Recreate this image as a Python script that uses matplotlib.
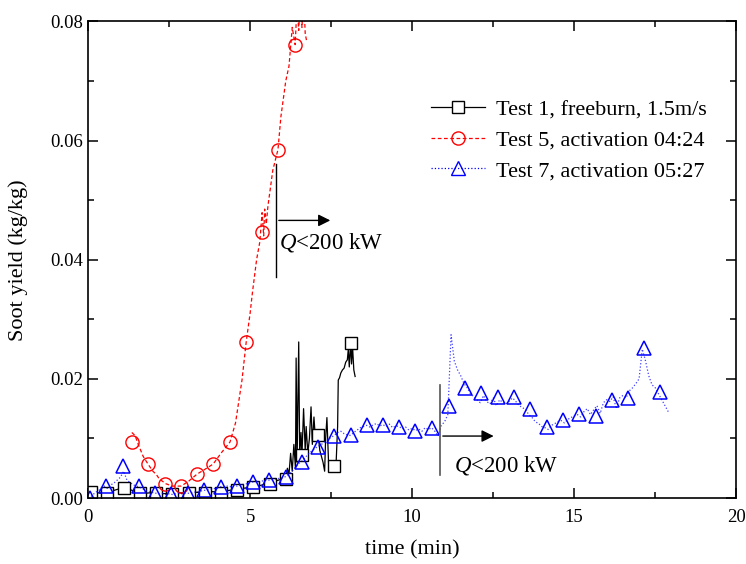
import matplotlib
matplotlib.use("Agg")
import matplotlib.pyplot as plt
from matplotlib.lines import Line2D
from matplotlib.ticker import MultipleLocator, FormatStrFormatter

plt.rcParams['font.family'] = ['Liberation Serif', 'DejaVu Serif']
plt.rcParams['mathtext.fontset'] = 'custom'
plt.rcParams['mathtext.it'] = 'Liberation Serif:italic'
plt.rcParams['mathtext.rm'] = 'Liberation Serif'

# ---- Test 1, freeburn (black solid) ----
t1_time = [0, 0.25, 0.5, 0.75, 1.0, 1.25, 1.5, 1.75, 2.0, 2.25, 2.5, 2.75, 3.0, 3.25,
           3.5, 3.75, 4.0, 4.25, 4.5, 4.75, 5.0, 5.25, 5.5, 5.75, 6.0,
           6.05, 6.1, 6.15, 6.2, 6.25, 6.3, 6.35, 6.4, 6.42, 6.45, 6.5, 6.53, 6.57, 6.6,
           6.65, 6.7, 6.73, 6.78, 6.83, 6.88, 6.92, 6.97, 7.02, 7.07, 7.1, 7.15, 7.2,
           7.25, 7.3, 7.33, 7.37, 7.42, 7.47, 7.55, 7.65, 7.7, 7.72, 7.76, 7.8, 7.85,
           7.9, 7.95, 8.0, 8.03, 8.06, 8.1, 8.13, 8.16, 8.2, 8.24]
t1_soot = [0.0010, 0.0009, 0.0008, 0.0012, 0.0016, 0.0015, 0.0010, 0.0008, 0.0009, 0.0007,
           0.0008, 0.0009, 0.0008, 0.0010, 0.0009, 0.0011, 0.0010, 0.0012, 0.0014, 0.0016,
           0.0018, 0.0020, 0.0024, 0.0028, 0.0032,
           0.0038, 0.0030, 0.0050, 0.0040, 0.0075, 0.0045, 0.0090, 0.0050, 0.0235, 0.0060,
           0.0262, 0.0070, 0.0110, 0.0072, 0.0150, 0.0080, 0.0120, 0.0075, 0.0100, 0.0153,
           0.0090, 0.0136, 0.0095, 0.0110, 0.0106, 0.0080, 0.0070, 0.0060, 0.0045, 0.0100,
           0.0135, 0.0060, 0.0050, 0.0054, 0.0054, 0.0120, 0.0198, 0.0202, 0.0210, 0.0215,
           0.0218, 0.0228, 0.0232, 0.0250, 0.0220, 0.0260, 0.0225, 0.0255, 0.0215, 0.0204]
t1_mk_time = [0.1, 0.6, 1.1, 1.6, 2.1, 2.6, 3.1, 3.6, 4.1, 4.6, 5.1, 5.6, 6.1, 6.6, 7.1, 7.6, 8.1]
t1_mk_soot = [0.0010, 0.0008, 0.0017, 0.0008, 0.0008, 0.0007, 0.0008, 0.0009, 0.0009,
              0.0014, 0.0018, 0.0024, 0.0032, 0.0072, 0.0106, 0.0054, 0.0260]

# ---- Test 5, activation 04:24 (red dashed) ----
t5_time = [1.35, 1.45, 1.55, 1.7, 1.85, 2.0, 2.1, 2.2, 2.4, 2.6, 2.87, 3.1, 3.36, 3.6,
           3.86, 4.1, 4.38, 4.55, 4.75, 4.88, 5.0, 5.07, 5.2, 5.3, 5.37, 5.42, 5.45,
           5.5, 5.55, 5.7, 5.86, 5.95, 6.1, 6.2, 6.3, 6.39, 6.45, 6.5, 6.55, 6.6,
           6.65, 6.7, 6.75]
t5_soot = [0.0110, 0.0105, 0.0090, 0.0070, 0.0057, 0.0045, 0.0040, 0.0032, 0.0024, 0.0020,
           0.0020, 0.0028, 0.0040, 0.0048, 0.0057, 0.0075, 0.0094, 0.0126, 0.0198, 0.0262,
           0.0310, 0.0344, 0.0400, 0.0430, 0.0479, 0.0440, 0.0485, 0.0460, 0.0490, 0.0550,
           0.0585, 0.0640, 0.0700, 0.0725, 0.0790, 0.0761, 0.0830, 0.0785, 0.0840, 0.0790,
           0.0850, 0.0780, 0.0765]
t5_mk_time = [1.36, 1.85, 2.38, 2.87, 3.36, 3.86, 4.38, 4.88, 5.37, 5.86, 6.39]
t5_mk_soot = [0.0094, 0.0057, 0.0024, 0.0020, 0.0040, 0.0057, 0.0094, 0.0262, 0.0447,
              0.0585, 0.0761]

# ---- Test 7, activation 05:27 (blue dotted) ----
t7_time = [round(0.1 * i, 1) for i in range(180)]
t7_soot = [0.0000, 0.0003, 0.0008, 0.0012, 0.0015, 0.0020, 0.0016, 0.0022, 0.0025, 0.0030,
           0.0035, 0.0045, 0.0030, 0.0026, 0.0022, 0.0020, 0.0018, 0.0015, 0.0012, 0.0010,
           0.0009, 0.0008, 0.0007, 0.0008, 0.0006, 0.0007, 0.0006, 0.0007, 0.0008, 0.0007,
           0.0008, 0.0008, 0.0009, 0.0010, 0.0011, 0.0012, 0.0013, 0.0014, 0.0015, 0.0016,
           0.0017, 0.0019, 0.0018, 0.0020, 0.0019, 0.0021, 0.0020, 0.0022, 0.0023, 0.0024,
           0.0026, 0.0027, 0.0028, 0.0027, 0.0029, 0.0030, 0.0030, 0.0031, 0.0032, 0.0033,
           0.0034, 0.0036, 0.0040, 0.0045, 0.0052, 0.0058, 0.0062, 0.0068, 0.0074, 0.0079,
           0.0083, 0.0087, 0.0090, 0.0094, 0.0098, 0.0102, 0.0105, 0.0110, 0.0112, 0.0108,
           0.0106, 0.0105, 0.0110, 0.0114, 0.0118, 0.0120, 0.0122, 0.0119, 0.0123, 0.0125,
           0.0121, 0.0123, 0.0120, 0.0124, 0.0118, 0.0121, 0.0120, 0.0116, 0.0119, 0.0114,
           0.0117, 0.0113, 0.0116, 0.0112, 0.0118, 0.0115, 0.0118, 0.0112, 0.0104, 0.0122,
           0.0128, 0.0140, 0.0274, 0.0230, 0.0215, 0.0205, 0.0192, 0.0185, 0.0175, 0.0170,
           0.0165, 0.0160, 0.0172, 0.0162, 0.0158, 0.0168, 0.0155, 0.0165, 0.0160, 0.0158,
           0.0163, 0.0168, 0.0162, 0.0155, 0.0152, 0.0148, 0.0140, 0.0135, 0.0128, 0.0125,
           0.0120, 0.0118, 0.0115, 0.0122, 0.0125, 0.0128, 0.0130, 0.0126, 0.0132, 0.0135,
           0.0138, 0.0140, 0.0136, 0.0145, 0.0150, 0.0140, 0.0148, 0.0155, 0.0142, 0.0160,
           0.0165, 0.0162, 0.0170, 0.0150, 0.0168, 0.0172, 0.0168, 0.0180, 0.0185, 0.0192,
           0.0200, 0.0250, 0.0230, 0.0205, 0.0190, 0.0185, 0.0175, 0.0165, 0.0155, 0.0145]
t7_mk_time = [0.06, 0.56, 1.08, 1.57, 2.07, 2.56, 3.09, 3.58, 4.1, 4.6, 5.09, 5.59, 6.1,
              6.6, 7.1, 7.6, 8.1, 8.6, 9.1, 9.6, 10.1, 10.6, 11.14, 11.64, 12.13, 12.65,
              13.15, 13.64, 14.17, 14.66, 15.15, 15.68, 16.17, 16.67, 17.16, 17.65]
t7_mk_soot = [0.0000, 0.0020, 0.0054, 0.0020, 0.0008, 0.0007, 0.0008, 0.0013, 0.0019,
              0.0020, 0.0027, 0.0030, 0.0035, 0.0060, 0.0086, 0.0104, 0.0105, 0.0122,
              0.0123, 0.0120, 0.0113, 0.0118, 0.0155, 0.0185, 0.0177, 0.0170, 0.0170,
              0.0150, 0.0120, 0.0131, 0.0141, 0.0138, 0.0164, 0.0168, 0.0252, 0.0178]

labels = ['Test 1, freeburn, 1.5m/s', 'Test 5, activation 04:24', 'Test 7, activation 05:27']

fig = plt.figure(figsize=(7.46, 5.64), dpi=100)
ax = fig.add_axes([0.118, 0.117, 0.869, 0.845])

ax.plot(t1_time, t1_soot, color='black', lw=0.9)
ax.plot(t1_mk_time, t1_mk_soot, ls='none', marker='s', ms=8, mfc='white', mec='black', mew=1)

ax.plot(t5_time, t5_soot, color='red', ls='--', lw=0.9, dashes=(3, 2))
ax.plot(t5_mk_time, t5_mk_soot, ls='none', marker='o', ms=9.5, mfc='none', mec='red', mew=1)

ax.plot(t7_time, t7_soot, color='blue', ls=':', lw=0.9, alpha=0.75)
ax.plot(t7_mk_time, t7_mk_soot, ls='none', marker='^', ms=10, mfc='none', mec='blue', mew=1.1)

# Q<200 kW markers
ax.plot([5.8, 5.8], [0.0371, 0.056], color='black', lw=1)
ax.annotate('', xy=(7.56, 0.0466), xytext=(5.8, 0.0466),
            arrowprops=dict(arrowstyle='-|>', color='black', lw=1, mutation_scale=18))
ax.text(5.9, 0.0429, r'$Q$<200 kW', fontsize=16.5, va='center', ha='left')

ax.plot([10.86, 10.86], [0.0039, 0.019], color='#555555', lw=1.2)
ax.annotate('', xy=(12.6, 0.0104), xytext=(10.86, 0.0104),
            arrowprops=dict(arrowstyle='-|>', color='black', lw=1, mutation_scale=18))
ax.text(11.3, 0.0055, r'$Q$<200 kW', fontsize=16.5, va='center', ha='left')

ax.set_xlim(0, 20)
ax.set_ylim(0, 0.08)
ax.xaxis.set_major_locator(MultipleLocator(5))
ax.xaxis.set_minor_locator(MultipleLocator(2.5))
ax.yaxis.set_major_locator(MultipleLocator(0.02))
ax.yaxis.set_minor_locator(MultipleLocator(0.01))
ax.yaxis.set_major_formatter(FormatStrFormatter('%.2f'))
ax.tick_params(which='both', direction='in', top=True, right=True, labelsize=13.5, width=1.1)
ax.tick_params(which='major', length=7)
ax.tick_params(which='minor', length=4)
ax.tick_params(axis='x', pad=8)
for s in ax.spines.values():
    s.set_linewidth(1.2)

ax.set_xlabel('time (min)', fontsize=16, labelpad=10)
ax.set_ylabel('Soot yield (kg/kg)', fontsize=16, labelpad=16)

handles = [
    Line2D([], [], color='black', lw=0.9, marker='s', ms=8, mfc='white', mec='black'),
    Line2D([], [], color='red', ls='--', lw=0.9, dashes=(3, 2), marker='o', ms=9.5, mfc='none', mec='red'),
    Line2D([], [], color='blue', ls=':', lw=0.9, marker='^', ms=10, mfc='none', mec='blue'),
]
ax.legend(handles, labels, loc='upper right', bbox_to_anchor=(0.985, 0.878), frameon=False,
          fontsize=16, handlelength=2.4, handletextpad=0.5, labelspacing=0.45)

fig.savefig('out.png', dpi=100)
